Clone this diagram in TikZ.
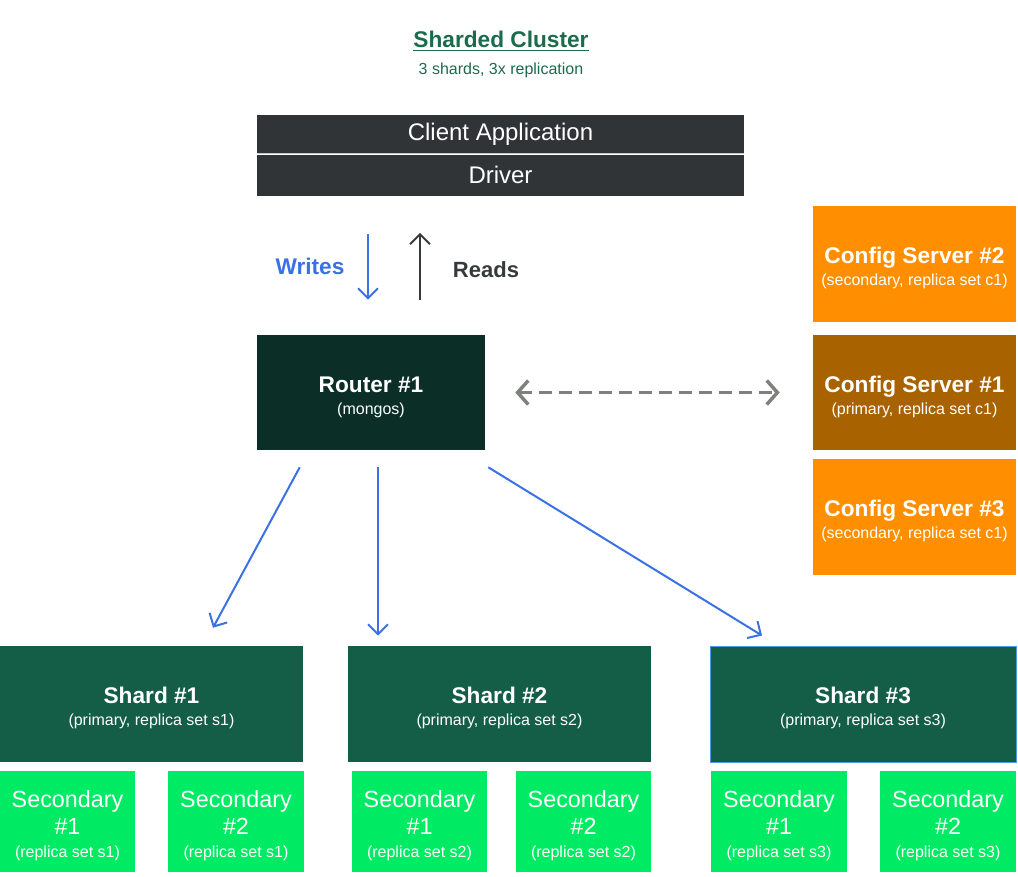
\documentclass[tikz,border=0pt]{standalone}
\usepackage{fontspec}
\setmainfont{Liberation Sans}
\usetikzlibrary{arrows.meta}

\definecolor{titlegreen}{HTML}{1B6B4D}
\definecolor{clientgray}{HTML}{303437}
\definecolor{routergreen}{HTML}{0B2F26}
\definecolor{shardgreen}{HTML}{145E48}
\definecolor{secgreen}{HTML}{00EB64}
\definecolor{cfgorange}{HTML}{FF8F00}
\definecolor{cfgbrown}{HTML}{A86200}
\definecolor{writeblue}{HTML}{3A72E6}
\definecolor{readgray}{HTML}{363A3C}
\definecolor{dashgray}{HTML}{7D827E}
\definecolor{edgeblue}{HTML}{4A9DE0}
\newcommand\padtop{\rule{0pt}{18.4pt}}

\begin{document}
\begin{tikzpicture}
            [
                x=0.75pt, y=-0.75pt,
                box/.style={inner sep=0pt, align=center, text=white},
                clientbox/.style={box, fill=clientgray, minimum width=365.25pt, font=\fontsize{18}{20}\selectfont},
                namedbox/.style={box, font=\fontsize{17}{16.5}\selectfont},
                routerbox/.style={namedbox, fill=routergreen, minimum width=171pt, minimum height=86.25pt},
                cfgbox/.style={namedbox, fill=cfgorange, minimum width=152.25pt, minimum height=87pt},
                shardbox/.style={namedbox, fill=shardgreen, minimum width=227.25pt, minimum height=87pt},
                secbox/.style={box, fill=secgreen, minimum width=101.5pt, minimum height=75.75pt, font=\fontsize{17.5}{20}\selectfont},
                wline/.style={draw=writeblue, line width=1.5pt, -{Straight Barb[length=7.5pt, width=15pt]}},
                >=latex
            ]
            \useasboundingbox (0,0) rectangle (1018,876);
            \node[text=titlegreen, font=\fontsize{17}{19}\selectfont\bfseries] (title) at (501,41) {\underline{Sharded Cluster}};
            \node[text=titlegreen, font=\fontsize{12}{14}\selectfont] (subtitle) at (501,70) {3 shards, 3x replication};
            \node[clientbox, minimum height=28.5pt] (client) at (500.5,134) {Client Application};
            \node[clientbox, minimum height=30.75pt] (driver) at (500.5,175) {Driver};
            \draw[gray!45, line width=0.75pt] (client.south west) -- (client.south east);
            \node[routerbox] (router) at (371,392.5)
                {\padtop{\bfseries Router \#1}\\{\fontsize{12}{14}\selectfont (mongos)}};
            \node[cfgbox] (cfg2) at (914.5,264)
                {\padtop{\bfseries Config Server \#2}\\{\fontsize{12}{14}\selectfont (secondary, replica set c1)}};
            \node[cfgbox, fill=cfgbrown, minimum height=86.25pt] (cfg1) at (914.5,392.5)
                {\padtop{\bfseries Config Server \#1}\\{\fontsize{12}{14}\selectfont (primary, replica set c1)}};
            \node[cfgbox] (cfg3) at (914.5,517)
                {\padtop{\bfseries Config Server \#3}\\{\fontsize{12}{14}\selectfont (secondary, replica set c1)}};
            \node[shardbox] (shard1) at (151.5,704)
                {\padtop{\bfseries Shard \#1}\\{\fontsize{12}{14}\selectfont (primary, replica set s1)}};
            \node[shardbox] (shard2) at (499.5,704)
                {\padtop{\bfseries Shard \#2}\\{\fontsize{12}{14}\selectfont (primary, replica set s2)}};
            \node[shardbox, minimum width=229.5pt, draw=edgeblue, line width=0.75pt] (shard3) at (863,704)
                {\padtop{\bfseries Shard \#3}\\{\fontsize{12}{14}\selectfont (primary, replica set s3)}};
            \foreach \nm/\cx/\num/\rs in {sec11/67.5/1/s1, sec12/236/2/s1, sec21/419.5/1/s2, sec22/583.5/2/s2, sec31/779/1/s3, sec32/948/2/s3}
            {
                \node[secbox] (\nm) at (\cx,821.5)
                    {\rule{0pt}{18.8pt}Secondary\\\#\num\\[-3pt]{\fontsize{12}{14}\selectfont (replica set \rs)}};
            }
            \node[text=writeblue, font=\fontsize{17}{19}\selectfont\bfseries] (writes) at (310,266) {Writes};
            \node[text=readgray, font=\fontsize{16.5}{19}\selectfont\bfseries] (reads) at (486,270) {Reads};
            \draw[wline] ([xshift=-99.375pt, yshift=-28.5pt]driver.south) -- ([xshift=-2.25pt, yshift=26.25pt]router.north);
            \draw[wline, draw=readgray] ([xshift=36.75pt, yshift=26.25pt]router.north) -- ([xshift=-60.375pt, yshift=-27.75pt]driver.south);
            \draw[draw=dashgray, line width=2.6pt, dash pattern=on 9.75pt off 5.25pt,
                  {Straight Barb[length=8pt, width=18pt]}-{Straight Barb[length=8pt, width=18pt]},
                  shorten <=22.5pt, shorten >=24.75pt] (router.east) -- (cfg1.west);
            \draw[wline] ([xshift=32.25pt, yshift=-12.75pt]router.south west) -- ([xshift=46.125pt, yshift=13.5pt]shard1.north);
            \draw[wline] ([xshift=5.25pt, yshift=-12.75pt]router.south) -- ([xshift=-91.125pt, yshift=7.5pt]shard2.north);
            \draw[wline] ([xshift=2.25pt, yshift=-12.75pt]router.south east) -- ([xshift=-75.75pt, yshift=7.5pt]shard3.north);
        \end{tikzpicture}
\end{document}
